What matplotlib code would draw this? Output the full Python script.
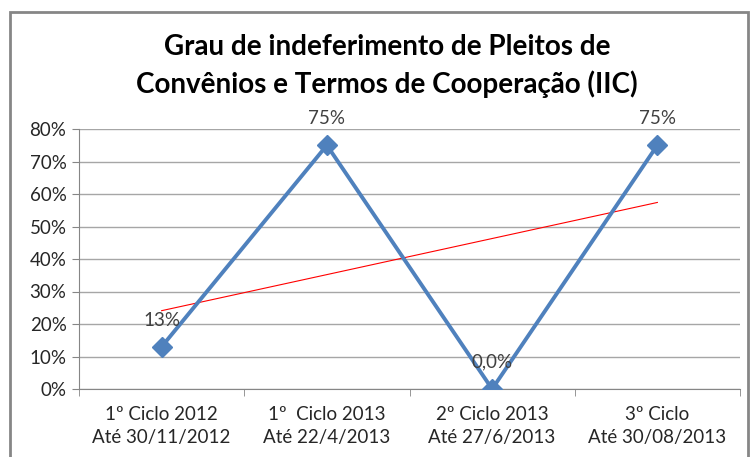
import matplotlib.pyplot as plt
import numpy as np
from matplotlib.patches import Rectangle

# dados
categorias = ['1º Ciclo 2012\nAté 30/11/2012', '1º  Ciclo 2013\nAté 22/4/2013',
              '2º Ciclo 2013\nAté 27/6/2013', '3º Ciclo\nAté 30/08/2013']
valores = [0.13, 0.75, 0.0, 0.75]
rotulos = ['13%', '75%', '0,0%', '75%']
yticks = [0, 0.1, 0.2, 0.3, 0.4, 0.5, 0.6, 0.7, 0.8]
titulo = 'Grau de indeferimento de Pleitos de\nConvênios e Termos de Cooperação (IIC)'

plt.rcParams['font.family'] = ['Lato', 'DejaVu Sans']

fig = plt.figure(figsize=(7.52, 4.57), dpi=100)
ax = fig.add_axes([79 / 752, 1 - 389 / 457, (740 - 79) / 752, (389 - 129) / 457])

x = np.arange(len(valores))
ax.plot(x, valores, color='#4F81BD', lw=2.8, marker='D', ms=10, zorder=3)

# linha de tendencia
coef = np.polyfit(x, valores, 1)
ax.plot(x, np.polyval(coef, x), color='red', lw=0.8, zorder=2)

for xi, v, r in zip(x, valores, rotulos):
    ax.text(xi, v + 0.082, r, ha='center', va='center', fontsize=13.5, color='#404040')

ax.set_xlim(-0.5, len(valores) - 0.5)
ax.set_ylim(0, 0.8)
ax.set_yticks(yticks)
ax.set_yticklabels([f'{int(round(t * 100))}%' for t in yticks], fontsize=13.5, color='#262626')
ax.set_xticks(x)
ax.set_xticklabels(categorias, fontsize=13.5, color='#262626', linespacing=1.45)
ax.set_xticks(np.arange(-0.5, len(valores)), minor=True)
ax.tick_params(axis='x', which='major', length=0, pad=12)
ax.tick_params(axis='x', which='minor', length=5, color='#868686')
ax.tick_params(axis='y', length=5, color='#868686', pad=4)
ax.grid(axis='y', color='#A6A6A6', lw=1)
ax.set_axisbelow(True)
for s in ['top', 'right']:
    ax.spines[s].set_visible(False)
ax.spines['left'].set_color('#868686')
ax.spines['bottom'].set_color('#868686')

fig.text(387 / 752, 1 - 66 / 457, titulo, ha='center', va='center',
         fontsize=20, fontweight='bold', linespacing=1.45)

fig.patches.append(Rectangle((10 / 752, -0.05), (748 - 10) / 752, 1.05 - 12 / 457,
                             transform=fig.transFigure, fill=False,
                             edgecolor='#868686', lw=2))

fig.savefig('out.png', dpi=100)
